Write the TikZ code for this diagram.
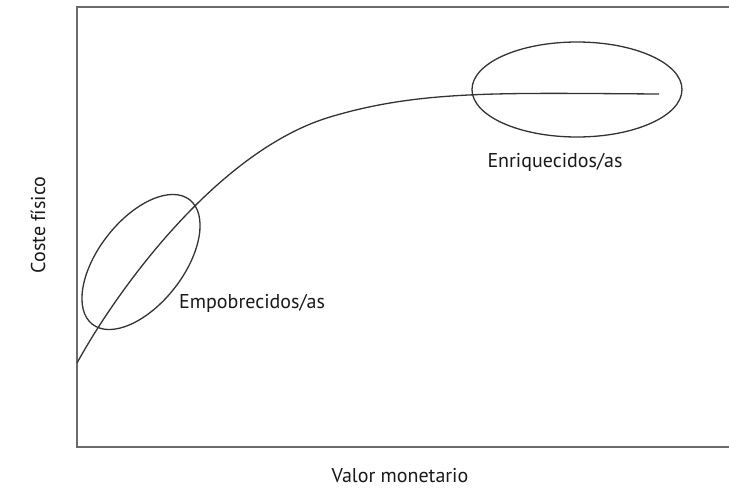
\documentclass[tikz,border=0pt]{standalone}
\usepackage{fontspec}
\setmainfont{PT Sans}
\usetikzlibrary{shapes.geometric}
\begin{document}
\begin{tikzpicture}[x=1pt,y=-1pt,
  axis/.style={draw=black!58, line width=2pt},
  curve/.style={draw=black!80, line width=1.3pt},
  ring/.style={draw=black!80, line width=1.3pt, ellipse, inner sep=0pt},
  lbl/.style={font=\fontsize{20}{23}\selectfont, text=black!90, inner sep=0pt}]
\useasboundingbox (0,0) rectangle (729,490);
\coordinate (tl) at (77,7);
\coordinate (tr) at (729,7);
\coordinate (bl) at (77,447);
\coordinate (br) at (729,447);
\coordinate (c0) at (77,363);
\coordinate (c1) at (330,117);
\coordinate (c2) at (659,94);
\draw[axis] (tr) -- (tl) -- (bl) -- (br);
\draw[curve] (c0) .. controls (120,285) and (220,150) .. (c1)
                  .. controls (420,90) and (500,93) .. (c2);
\node[ring, minimum width=158pt, minimum height=85pt, rotate=52] (poor) at (141,262) {};
\node[ring, minimum width=210pt, minimum height=95pt] (rich) at (577,89.5) {};
\node[lbl, anchor=base west] (poorlbl) at (179,308) {Empobrecidos/as};
\node[lbl, anchor=base] (richlbl) at (555,167) {Enriquecidos/as};
\node[lbl, anchor=base] (xlbl) at (400,482) {Valor monetario};
\node[lbl, rotate=90] (ylbl) at (38,225) {Coste físico};
\end{tikzpicture}
\end{document}
